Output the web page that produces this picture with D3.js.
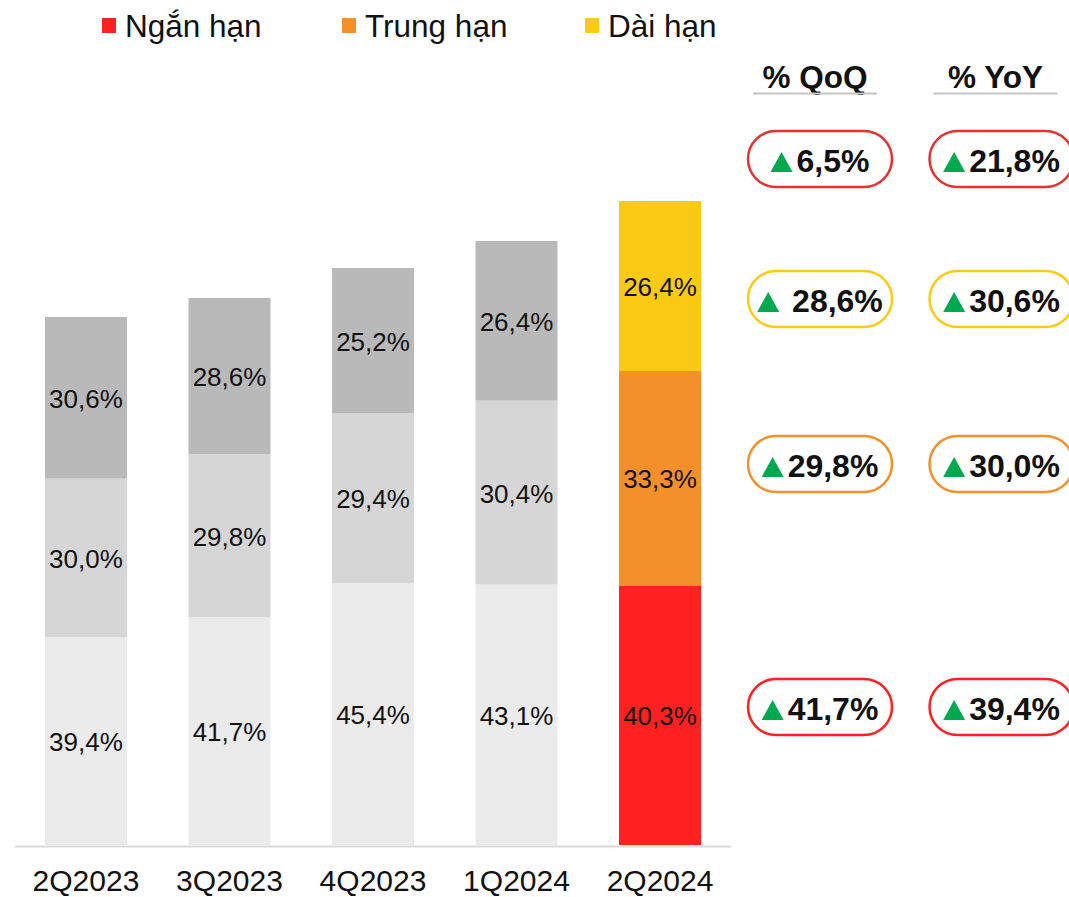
<!DOCTYPE html>
<html>
<head>
<meta charset="utf-8">
<script src="https://cdn.jsdelivr.net/npm/d3@7"></script>
<style>
  body { margin: 0; background: #fff; }
  svg { display: block; font-family: "Liberation Sans", Arial, sans-serif; }
</style>
</head>
<body>
<svg id="chart" width="1069" height="897"></svg>
<script>
// quarters and relative loan book size (index)
const quarters = ['2Q2023', '3Q2023', '4Q2023', '1Q2024', '2Q2024']
const totals = [528, 547, 577, 604, 644]

// share of each term in %, per quarter
const shortTerm = [39.4, 41.7, 45.4, 43.1, 40.3]
const midTerm = [30.0, 29.8, 29.4, 30.4, 33.3]
const longTerm = [30.6, 28.6, 25.2, 26.4, 26.4]

const seriesNames = ['Ngắn hạn', 'Trung hạn', 'Dài hạn']

// growth badges: total, long, mid, short
const qoq = ['6,5%', '\u00a028,6%', '29,8%', '41,7%']
const yoy = ['21,8%', '30,6%', '30,0%', '39,4%']

const colors = ['#ff2121', '#f39029', '#fbca15']
const greys = ['#ebebeb', '#d7d6d7', '#bab9ba']
const badgeColors = ['#e03434', '#fbca15', '#f39029', '#ff2121']
const badgeY = [159, 299, 464, 707]

const svg = d3.select('#chart')

const x = d3.scaleBand()
  .domain(quarters)
  .range([15, 731])
  .paddingInner(0.4286)
  .paddingOuter(0.209)

const y = d3.scaleLinear()
  .domain([0, 644])
  .range([845, 201])

// build stacked rows
const rows = quarters.map((q, i) => {
  const shares = [shortTerm[i], midTerm[i], longTerm[i]]
  const sum = d3.sum(shares)
  let acc = 0
  return shares.map((s, k) => {
    const v = s / sum * totals[i]
    const seg = { q, k, share: s, y0: acc, y1: acc + v, last: i === quarters.length - 1 }
    acc += v
    return seg
  })
}).flat()

const bars = svg.append('g')

bars.selectAll('rect')
  .data(rows)
  .join('rect')
  .attr('x', d => x(d.q))
  .attr('width', x.bandwidth())
  .attr('y', d => y(d.y1))
  .attr('height', d => y(d.y0) - y(d.y1))
  .attr('fill', d => d.last ? colors[d.k] : greys[d.k])

bars.selectAll('text')
  .data(rows)
  .join('text')
  .attr('x', d => x(d.q) + x.bandwidth() / 2)
  .attr('y', d => (y(d.y0) + y(d.y1)) / 2 + 10)
  .attr('text-anchor', 'middle')
  .style('font-size', '26px')
  .attr('fill', '#111')
  .text(d => d.share.toFixed(1).replace('.', ',') + '%')

// baseline
svg.append('line')
  .attr('x1', 15).attr('x2', 731)
  .attr('y1', 846.5).attr('y2', 846.5)
  .attr('stroke', '#d9d9d9')
  .attr('stroke-width', 2)

// x labels
svg.append('g')
  .selectAll('text')
  .data(quarters)
  .join('text')
  .attr('x', d => x(d) + x.bandwidth() / 2)
  .attr('y', 891)
  .attr('text-anchor', 'middle')
  .style('font-size', '30px')
  .attr('fill', '#111')
  .text(d => d)

// legend
const legendX = [102, 342, 585]
const legend = svg.append('g')
  .selectAll('g')
  .data(seriesNames)
  .join('g')
  .attr('transform', (d, i) => `translate(${legendX[i]},0)`)

legend.append('rect')
  .attr('y', 18).attr('width', 14).attr('height', 15)
  .attr('fill', (d, i) => colors[i])

legend.append('text')
  .attr('x', 23).attr('y', 37)
  .style('font-size', '31.5px')
  .attr('fill', '#111')
  .text(d => d)

// growth panel
const cols = [
  { title: '% QoQ', cx: 820, hx: 815, values: qoq },
  { title: '% YoY', cx: 1001.5, hx: 995.5, values: yoy }
]

cols.forEach(col => {
  svg.append('text')
    .attr('x', col.hx).attr('y', 88)
    .attr('text-anchor', 'middle')
    .style('font-size', '31.5px')
    .style('font-weight', 'bold')
    .attr('fill', '#111')
    .text(col.title)

  svg.append('line')
    .attr('x1', col.hx - 62).attr('x2', col.hx + 62)
    .attr('y1', 93.5).attr('y2', 93.5)
    .attr('stroke', '#c4c4c4')
    .attr('stroke-width', 2)

  col.values.forEach((v, i) => {
    const cy = badgeY[i]
    const g = svg.append('g')

    g.append('rect')
      .attr('x', col.cx - 72).attr('y', cy - 28)
      .attr('width', 144).attr('height', 56)
      .attr('rx', 28)
      .attr('fill', '#fff')
      .attr('stroke', badgeColors[i])
      .attr('stroke-width', 2.5)

    const label = g.append('text')
      .attr('y', cy + 13)
      .style('font-size', '32px')
      .style('font-weight', 'bold')
      .attr('fill', '#111')
      .text(v)

    const w = label.node().getComputedTextLength()
    const x0 = col.cx - (22 + 4 + w) / 2
    label.attr('x', x0 + 26)

    g.append('path')
      .attr('d', d3.line()([[x0, cy + 13], [x0 + 22, cy + 13], [x0 + 11, cy - 7]]) + 'Z')
      .attr('fill', '#00a84f')
  })
})
</script>
</body>
</html>
